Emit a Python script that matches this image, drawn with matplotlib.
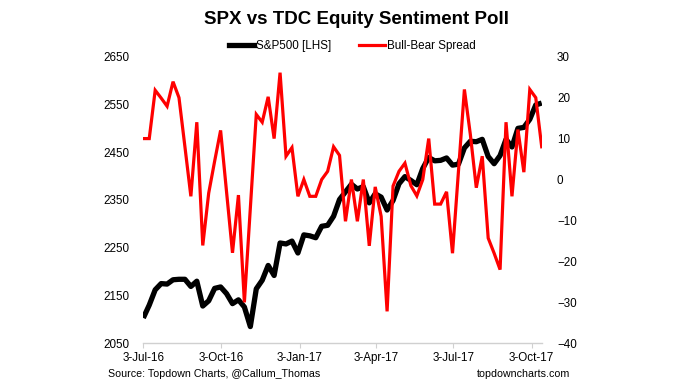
import matplotlib
matplotlib.use("Agg")
import matplotlib.pyplot as plt
import matplotlib.dates as mdates
from matplotlib.lines import Line2D
import numpy as np
import datetime as dt

plt.rcParams['font.family'] = ['Liberation Sans', 'DejaVu Sans']

# ---- data ----
start_date = dt.date(2016, 7, 3)
n_weeks = 68
dates = [start_date + dt.timedelta(days=7 * i) for i in range(n_weeks)]

spx = [2103, 2130, 2162, 2175, 2174, 2183, 2184, 2184, 2169, 2180,
       2128, 2139, 2165, 2168, 2154, 2133, 2141, 2126, 2085, 2164,
       2182, 2213, 2192, 2260, 2258, 2264, 2239, 2277, 2275, 2271,
       2295, 2297, 2316, 2351, 2367, 2383, 2373, 2378, 2344, 2363,
       2356, 2329, 2349, 2384, 2399, 2391, 2382, 2416, 2439, 2432,
       2433, 2438, 2423, 2425, 2459, 2473, 2472, 2477, 2441, 2426,
       2443, 2477, 2461, 2500, 2502, 2519, 2549, 2553]

bull_bear = [10, 10, 21.8, 19.9, 17.9, 23.9, 20, 8, -4.1, 14,
             -16.1, -3.3, 4.5, 12, -3, -17.9, -3.8, -30, -7, 15.9,
             14, 20.2, 10, 26.1, 5.7, 7.8, -4.1, 0, -4.1, -4.1,
             0, 2, 8, 5.9, -10.2, 0, -10.2, 0, -16.2, -1.8,
             -9, -32.2, -1.6, 2, 4, -1.5, -4, 0, 10, -6,
             -6, -3, -18, 2, 22, 11, -2, 5.7, -14.3, -18,
             -22, 14, -4.1, 12.2, 1.8, 22, 20, 8]

x_tick_dates = [dt.date(2016, 7, 3), dt.date(2016, 10, 3), dt.date(2017, 1, 3),
                dt.date(2017, 4, 3), dt.date(2017, 7, 3), dt.date(2017, 10, 3)]
x_tick_labels = ['3-Jul-16', '3-Oct-16', '3-Jan-17', '3-Apr-17', '3-Jul-17', '3-Oct-17']
left_ticks = [2050, 2150, 2250, 2350, 2450, 2550, 2650]
right_ticks = [-40, -30, -20, -10, 0, 10, 20, 30]

title = 'SPX vs TDC Equity Sentiment Poll'
series_names = ['S&P500 [LHS]', 'Bull-Bear Spread']
source_text = 'Source: Topdown Charts, @Callum_Thomas'
site_text = 'topdowncharts.com'

# ---- figure ----
W, H = 679, 388
fig = plt.figure(figsize=(W / 100, H / 100), dpi=100)
ax = fig.add_axes([143.3 / W, 1 - 343.3 / H, (541.7 - 143.3) / W, (343.3 - 56.7) / H])
ax2 = ax.twinx()

ax.plot(dates, spx, color='black', lw=3.8, solid_joinstyle='round', solid_capstyle='butt')
ax2.plot(dates, bull_bear, color='#ff0000', lw=2.3, solid_joinstyle='miter')

ax.set_xlim(dates[0], dates[-1])
ax.set_ylim(2050, 2650)
ax2.set_ylim(-40, 30)
ax.set_yticks(left_ticks)
ax2.set_yticks(right_ticks)
ax.set_xticks(x_tick_dates)
ax.set_xticklabels(x_tick_labels)

fs = 8.4
for a in (ax, ax2):
    for s in ['top', 'left', 'right', 'bottom']:
        a.spines[s].set_visible(False)
ax.spines['bottom'].set_visible(True)
ax.spines['bottom'].set_color('#d0d0d0')
ax.spines['bottom'].set_linewidth(1.0)

ax.tick_params(axis='y', length=0, pad=10, labelsize=fs)
ax2.tick_params(axis='y', length=0, pad=11, labelsize=fs)
ax.tick_params(axis='x', length=3.5, width=0.8, color='#d0d0d0', pad=3, labelsize=fs)

fig.text(356 / W, 1 - 20 / H, title, ha='center', va='center',
         fontsize=13.5, fontweight='bold')

handles = [Line2D([], [], color='black', lw=3.8),
           Line2D([], [], color='#ff0000', lw=2.3)]
fig.legend(handles, series_names, loc='center', bbox_to_anchor=(352 / W, 1 - 46 / H),
           ncol=2, frameon=False, fontsize=fs, handlelength=2.2, handletextpad=0.15,
           columnspacing=2.4, borderpad=0, borderaxespad=0)

fs_src = 7.7
fig.text(107.5 / W, 1 - 374 / H, source_text, ha='left', va='center', fontsize=fs_src)
fig.text(570 / W, 1 - 374 / H, site_text, ha='right', va='center', fontsize=fs_src)

fig.savefig('out.png', dpi=100)
